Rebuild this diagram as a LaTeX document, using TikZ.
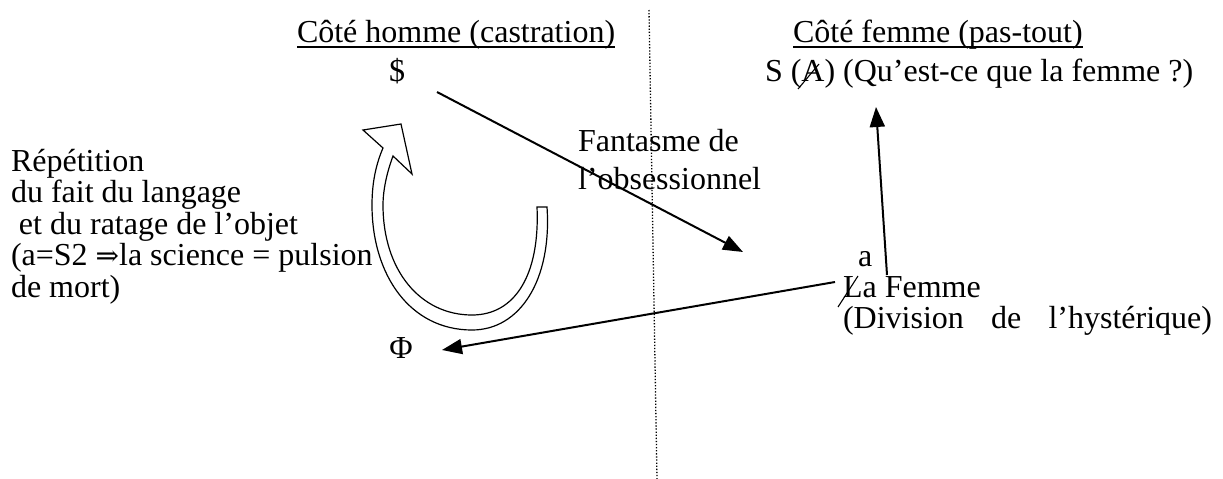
\documentclass[tikz,border=0pt]{standalone}
\usepackage{fontspec}
\setmainfont{Liberation Serif}
\newfontfamily\symf{DejaVu Serif}
\usetikzlibrary{arrows.meta,calc}
\tikzset{
  txt/.style={inner sep=0pt, outer sep=0pt, anchor=base west, align=left, font=\fontsize{32}{31.5}\selectfont},
  ctxt/.style={inner sep=0pt, outer sep=0pt, anchor=base, font=\fontsize{32}{31.5}\selectfont},
  arr/.style={line width=2pt, -{Triangle[length=20pt,width=15pt]}},
  divider/.style={line width=1.3pt, dash pattern=on 1.3pt off 1.8pt},
  uline/.style={line width=1.5pt},
  bar/.style={line width=1.1pt},
  hollow/.style={line width=1.2pt, fill=white, line join=miter}
}
\begin{document}
\begin{tikzpicture}[x=1pt,y=-1pt]
\useasboundingbox (0,0) rectangle (1223,479);
% divider
\coordinate (dtop) at (649,10);
\coordinate (dbot) at (657,479);
\draw[divider] (dtop) -- (dbot);
% titles
\node[txt] (homme) at (297,42) {Côté homme (castration)};
\draw[uline] ([yshift=-5pt]homme.base west) -- ([yshift=-5pt]homme.base east);
\node[txt] (femme) at (793,42) {Côté femme (pas-tout)};
\draw[uline] ([yshift=-5pt]femme.base west) -- ([yshift=-5pt]femme.base east);
% top symbols
\node[ctxt] (S) at (397,81) {\$};
\node[txt] (SA) at (765,81) {S (A) (Qu’est-ce que la femme ?)};
\draw[bar] ($(SA.base west)+(33,8)$) -- ($(SA.base west)+(54,-17)$);
% fantasme (base = last line)
\node[txt] (fant) at (578,189) {Fantasme de\\[6pt]l’obsessionnel};
% left block (base = last line)
\node[txt] (rep) at (11,297) {Répétition\\du fait du langage\\\hspace*{8pt}et du ratage de l’objet\\(a=S2 {\symf\fontsize{28}{31}\selectfont ⇒}la science = pulsion\\de mort)};
% right block
\node[txt] (a) at (858,266) {a};
\node[txt] (LF) at (843,297) {La Femme};
\draw[bar] ($(LF.base west)+(-5,10)$) -- ($(LF.base west)+(15,-21)$);
\node[txt] (div) at (843,328) {\makebox[369pt][s]{(Division de l’hystérique)}};
% Phi
\node[ctxt] (phi) at (401,358) {Φ};
% arrows
\coordinate (a1s) at (437,92);
\coordinate (a1e) at (743,252);
\draw[arr] (a1s) -- (a1e);
\coordinate (a2s) at (887,275);
\coordinate (a2e) at (876,107);
\draw[arr] (a2s) -- (a2e);
\coordinate (a3s) at (835,282);
\coordinate (a3e) at (442,350);
\draw[arr] (a3s) -- (a3e);
% circular hollow arrow
\draw[hollow] (547,207) .. controls (552,280) and (520,330) .. (472,330)
  .. controls (410,330) and (372,275) .. (372,205)
  .. controls (372,180) and (377,162) .. (383,148)
  -- (363,130) -- (401,124) -- (412,174) -- (393,156)
  .. controls (387,172) and (383,190) .. (383,205)
  .. controls (383,270) and (420,315) .. (472,315)
  .. controls (515,315) and (540,275) .. (537,207) -- cycle;
\end{tikzpicture}
\end{document}
